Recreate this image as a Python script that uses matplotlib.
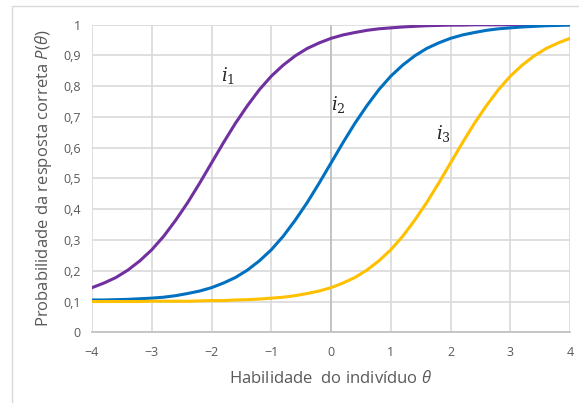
import matplotlib
matplotlib.use("Agg")
import matplotlib.pyplot as plt
from matplotlib.patches import Rectangle

theta = [-4.0, -3.8, -3.6, -3.4, -3.2, -3.0, -2.8, -2.6, -2.4, -2.2,
         -2.0, -1.8, -1.6, -1.4, -1.2, -1.0, -0.8, -0.6, -0.4, -0.2,
         0.0, 0.2, 0.4, 0.6, 0.8, 1.0, 1.2, 1.4, 1.6, 1.8,
         2.0, 2.2, 2.4, 2.6, 2.8, 3.0, 3.2, 3.4, 3.6, 3.8, 4.0]

item1 = [0.145, 0.160, 0.178, 0.202, 0.232, 0.268, 0.312, 0.364, 0.421, 0.484,
         0.550, 0.616, 0.679, 0.736, 0.788, 0.832, 0.868, 0.898, 0.922, 0.940,
         0.955, 0.966, 0.974, 0.981, 0.986, 0.989, 0.992, 0.994, 0.996, 0.997,
         0.998, 0.998, 0.999, 0.999, 0.999, 0.999, 1.000, 1.000, 1.000, 1.000, 1.000]

item2 = [0.105, 0.105, 0.106, 0.107, 0.109, 0.111, 0.114, 0.119, 0.126, 0.134,
         0.145, 0.160, 0.178, 0.202, 0.232, 0.268, 0.312, 0.364, 0.421, 0.484,
         0.550, 0.616, 0.679, 0.736, 0.788, 0.832, 0.868, 0.898, 0.922, 0.940,
         0.955, 0.966, 0.974, 0.981, 0.986, 0.989, 0.992, 0.994, 0.996, 0.997, 0.998]

item3 = [0.100, 0.100, 0.100, 0.100, 0.100, 0.101, 0.101, 0.101, 0.101, 0.102,
         0.103, 0.103, 0.105, 0.106, 0.108, 0.111, 0.114, 0.119, 0.126, 0.134,
         0.145, 0.160, 0.178, 0.202, 0.232, 0.268, 0.312, 0.364, 0.421, 0.484,
         0.550, 0.616, 0.679, 0.736, 0.788, 0.832, 0.868, 0.898, 0.922, 0.940, 0.955]

series_labels = ["$i_1$", "$i_2$", "$i_3$"]
label_pos = [(-1.72, 0.835), (0.12, 0.74), (1.89, 0.645)]
colors = ["#7030A0", "#0070C0", "#FFC000"]

xticks = [-4, -3, -2, -1, 0, 1, 2, 3, 4]
yticks = [0, 0.1, 0.2, 0.3, 0.4, 0.5, 0.6, 0.7, 0.8, 0.9, 1.0]
ytick_labels = ["0", "0,1", "0,2", "0,3", "0,4", "0,5", "0,6", "0,7", "0,8", "0,9", "1"]

plt.rcParams["font.family"] = ["Open Sans", "DejaVu Sans"]
plt.rcParams["mathtext.fontset"] = "custom"
plt.rcParams["mathtext.rm"] = "Open Sans"
plt.rcParams["mathtext.it"] = "Open Sans:italic"

W, H = 579, 403
fig = plt.figure(figsize=(W / 100, H / 100), dpi=100)
fig.patches.append(Rectangle((12 / W, -0.1), 1.2, (H - 6) / H + 0.1,
                             transform=fig.transFigure, fill=False,
                             edgecolor="#d9d9d9", linewidth=1.0))

ax = fig.add_axes([92 / W, (H - 332.3) / H, (570 - 92) / W, (332.3 - 24.5) / H])
ax.set_xlim(-4, 4)
ax.set_ylim(0, 1)
ax.set_xticks(xticks)
ax.set_yticks(yticks)
ax.set_yticklabels(ytick_labels)
ax.grid(True, color="#d9d9d9", linewidth=1.2)
ax.axvline(0, color="#bfbfbf", linewidth=1.2, zorder=1)
for s in ["top", "right", "left"]:
    ax.spines[s].set_visible(False)
ax.spines["bottom"].set_color("#bfbfbf")
ax.spines["bottom"].set_linewidth(1.2)
ax.tick_params(length=0, labelsize=9, labelcolor="#595959")
ax.tick_params(axis="y", pad=8)
ax.tick_params(axis="x", pad=10)
ax.set_axisbelow(True)

for ys, c in zip([item1, item2, item3], colors):
    ax.plot(theta, ys, color=c, linewidth=2.2, zorder=3)

for lab, (lx, ly) in zip(series_labels, label_pos):
    ax.text(lx, ly, lab, fontsize=13, color="#262626", ha="center", va="center",
            math_fontfamily="dejavuserif", zorder=4)

ax.set_xlabel(r"Habilidade  do indivíduo $\theta$", fontsize=12, color="#595959", labelpad=8)
ax.set_ylabel(r"Probabilidade da resposta correta $P(\theta)$", fontsize=12,
              color="#595959", labelpad=7)

fig.savefig("out.png", dpi=100)
